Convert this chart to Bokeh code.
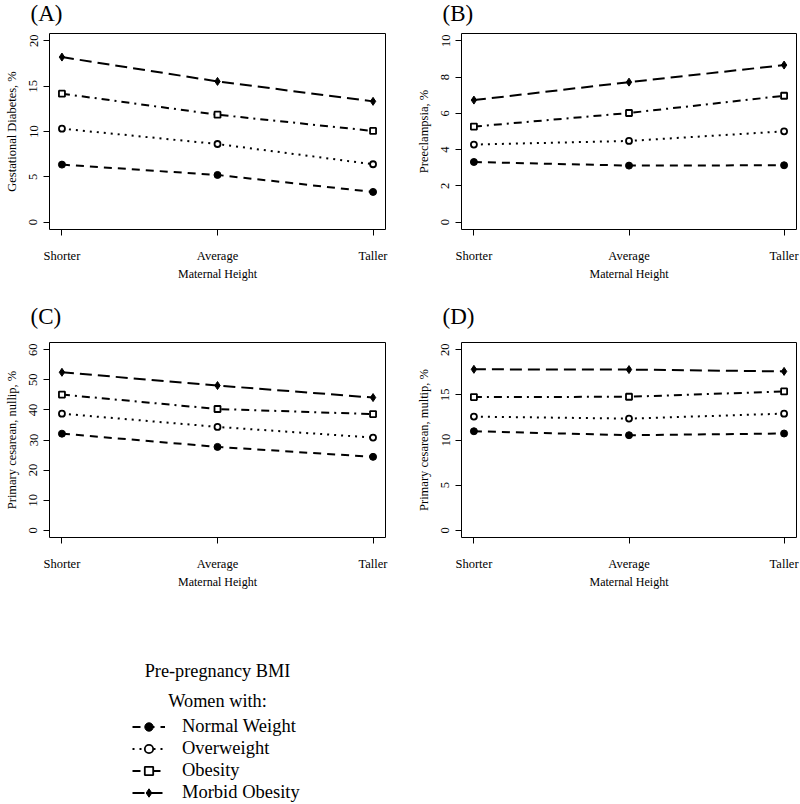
from bokeh.plotting import figure
from bokeh.layouts import row, column
from bokeh.models import Range1d, FixedTicker, Label, Legend, LegendItem
from bokeh.embed import file_html
from bokeh.resources import INLINE

# ---------------- data ----------------
heights = ["Shorter", "Average", "Taller"]
groups = ["Normal Weight", "Overweight", "Obesity", "Morbid Obesity"]

gdm_normal = [6.35, 5.21, 3.34]
gdm_over = [10.31, 8.62, 6.39]
gdm_obese = [14.17, 11.85, 10.06]
gdm_morbid = [18.2, 15.52, 13.32]

pre_normal = [3.32, 3.12, 3.14]
pre_over = [4.28, 4.48, 5.01]
pre_obese = [5.27, 6.02, 6.97]
pre_morbid = [6.73, 7.72, 8.66]

cn_normal = [32.1, 27.7, 24.4]
cn_over = [38.75, 34.35, 30.8]
cn_obese = [45.1, 40.3, 38.6]
cn_morbid = [52.5, 48.1, 44.1]

cm_normal = [10.97, 10.53, 10.72]
cm_over = [12.59, 12.37, 12.92]
cm_obese = [14.75, 14.79, 15.38]
cm_morbid = [17.83, 17.8, 17.6]

panel_tags = ["(A)", "(B)", "(C)", "(D)"]
panel_ylabels = ["Gestational Diabetes, %", "Preeclampsia, %",
                 "Primary cesarean, nullip, %", "Primary cesarean, multip, %"]
panel_ymax = [20, 10, 60, 20]
panel_ystep = [5, 2, 10, 5]
x_label = "Maternal Height"
legend_head1 = "Pre-pregnancy BMI"
legend_head2 = "Women with:"

# ---------------- styles ----------------
FONT = "Liberation Serif"
styles = {
    "Normal Weight": dict(dash="8 6", marker="circle", fill="black", size=7, lw=1),
    "Overweight": dict(dash="2 5", marker="circle", fill="white", size=6, lw=1.8),
    "Obesity": dict(dash="8 5 2 5", marker="square", fill="white", size=6, lw=1.8),
    "Morbid Obesity": dict(dash="12 6", marker="diamond", fill="black", size=8, lw=1),
}


def blank_fig(w, h):
    f = figure(frame_width=w, frame_height=h, min_border=0,
               x_range=Range1d(0, w), y_range=Range1d(0, h),
               x_axis_type=None, y_axis_type=None,
               output_backend="svg", toolbar_location=None, tools="")
    f.grid.visible = False
    f.outline_line_color = None
    f.background_fill_color = "white"
    f.border_fill_color = "white"
    return f


def tag_strip(tags, xs, y):
    f = blank_fig(800, 30)
    for t, x in zip(tags, xs):
        f.add_layout(Label(x=x, y=y, text=t, text_align="left", text_baseline="middle",
                           text_font=FONT, text_font_size="23px", text_color="black"))
    return f


def make_panel(ylab, series, ymax, step, left, right, top, bottom, fw, fh):
    p = figure(frame_width=fw, frame_height=fh,
               min_border_left=left, min_border_right=right,
               min_border_top=top, min_border_bottom=bottom,
               x_range=Range1d(0.92, 3.08),
               y_range=Range1d(-0.04 * ymax, 1.04 * ymax),
               output_backend="svg", toolbar_location=None, tools="")
    x = [i + 1 for i in range(len(heights))]
    for g, vals in zip(groups, series):
        s = styles[g]
        p.line(x, vals, line_dash=s["dash"], line_width=2, line_color="black")
        p.scatter(x, vals, marker=s["marker"], size=s["size"], fill_color=s["fill"],
                  line_color="black", line_width=s["lw"])
    p.xgrid.visible = False
    p.ygrid.visible = False
    p.outline_line_color = "black"
    p.outline_line_width = 1
    p.outline_line_alpha = 1
    p.background_fill_color = "white"
    p.border_fill_color = "white"

    p.xaxis.ticker = FixedTicker(ticks=x)
    p.xaxis.major_label_overrides = {i + 1: h for i, h in enumerate(heights)}
    p.yaxis.ticker = FixedTicker(ticks=list(range(0, ymax + 1, step)))
    p.yaxis.major_label_orientation = "vertical"
    for ax in (p.xaxis[0], p.yaxis[0]):
        ax.axis_line_color = None
        ax.major_tick_out = 6
        ax.major_tick_in = 0
        ax.minor_tick_out = 0
        ax.minor_tick_in = 0
        ax.major_tick_line_color = "black"
        ax.major_label_text_font = FONT
        ax.major_label_text_font_size = "12.5px"
        ax.major_label_text_color = "black"
        ax.axis_label_text_font = FONT
        ax.axis_label_text_font_style = "normal"
        ax.axis_label_text_color = "black"
    p.xaxis.axis_label_text_font_size = "12px"
    p.yaxis.axis_label_text_font_size = "12.5px"
    p.xaxis.major_label_standoff = 13
    p.xaxis.axis_label_standoff = 1
    p.yaxis.major_label_standoff = 6
    p.yaxis.axis_label_standoff = 8
    p.xaxis.axis_label = x_label
    p.yaxis.axis_label = ylab
    return p


tags_top = tag_strip(panel_tags[:2], [30, 442], 17)
tags_mid = tag_strip(panel_tags[2:], [30, 442], 14)

pA = make_panel(panel_ylabels[0], [gdm_normal, gdm_over, gdm_obese, gdm_morbid],
                panel_ymax[0], panel_ystep[0], 49, 15, 3, 71, 336, 196)
pB = make_panel(panel_ylabels[1], [pre_normal, pre_over, pre_obese, pre_morbid],
                panel_ymax[1], panel_ystep[1], 61, 4, 3, 71, 335, 196)
pC = make_panel(panel_ylabels[2], [cn_normal, cn_over, cn_obese, cn_morbid],
                panel_ymax[2], panel_ystep[2], 49, 15, 12, 63, 336, 195)
pD = make_panel(panel_ylabels[3], [cm_normal, cm_over, cm_obese, cm_morbid],
                panel_ymax[3], panel_ystep[3], 61, 4, 12, 63, 335, 195)

# ---------------- legend panel ----------------
L = blank_fig(800, 204)
# off-frame ranges for the legend's sample renderers (they draw nothing visible)
L.extra_x_ranges = {"hidden": Range1d(1000, 2000)}
L.extra_y_ranges = {"hidden": Range1d(1000, 2000)}

L.add_layout(Label(x=217, y=134, text=legend_head1, text_align="center", text_baseline="middle",
                   text_font=FONT, text_font_size="18.3px", text_color="black"))
L.add_layout(Label(x=217, y=104, text=legend_head2, text_align="center", text_baseline="middle",
                   text_font=FONT, text_font_size="18.3px", text_color="black"))

items = []
xs = [i + 1 for i in range(len(heights))]
for g, vals in zip(groups, [gdm_normal, gdm_over, gdm_obese, gdm_morbid]):
    s = styles[g]
    r1 = L.line(xs, vals, line_dash=s["dash"], line_width=2, line_color="black",
                x_range_name="hidden", y_range_name="hidden")
    r2 = L.scatter(xs, vals, marker=s["marker"], size=s["size"], fill_color=s["fill"],
                   line_color="black", line_width=s["lw"],
                   x_range_name="hidden", y_range_name="hidden")
    items.append(LegendItem(label=g, renderers=[r1, r2]))

leg = Legend(items=items, location=(132, 1), glyph_width=33, glyph_height=21,
             label_standoff=17, spacing=1, padding=0, margin=0,
             border_line_color=None, background_fill_alpha=0,
             label_text_font=FONT, label_text_font_size="18.5px", label_height=21,
             label_text_color="black")
L.add_layout(leg)

layout = column(tags_top, row(pA, pB), tags_mid, row(pC, pD), L)
open("out.html", "w").write(file_html(layout, INLINE))
